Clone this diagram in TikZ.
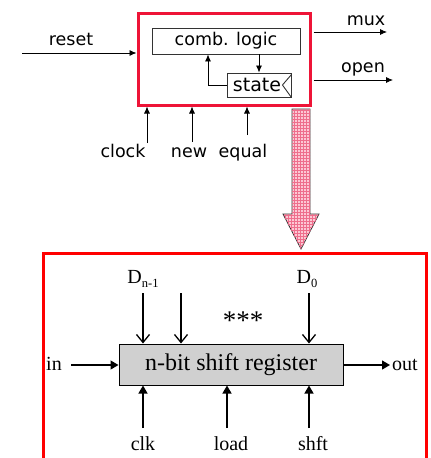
\documentclass[tikz,border=0pt]{standalone}
\usepackage{fontspec}
\setmainfont{Liberation Serif}
\newfontfamily\comicfont{DejaVu Sans}
\usetikzlibrary{arrows.meta,patterns,calc}
\definecolor{topred}{RGB}{238,20,55}
\definecolor{arrowpink}{RGB}{252,200,212}
\definecolor{gridred}{RGB}{238,110,140}
\definecolor{reggray}{RGB}{208,208,208}
\begin{document}
\begin{tikzpicture}[x=1pt,y=-1pt,
  ctext/.style={font=\comicfont\fontsize{17.5}{18}\selectfont, inner sep=0pt},
  stext/.style={font=\fontsize{20}{20}\selectfont, inner sep=0pt},
  sarrow/.style={-{Latex[length=7pt,width=6pt]}, line width=0.8pt},
  vtip/.style={-{Straight Barb[length=8pt,width=13pt]}, line width=1.3pt},
  ftip/.style={-{Triangle[length=8pt,width=9pt]}, line width=1.3pt},
  inbox/.style={draw=black!80, line width=0.9pt, inner sep=0pt}]
\useasboundingbox (0,0) rectangle (431,458);

% ---------- top FSM ----------
\node[draw=topred, line width=3pt, minimum width=172pt, minimum height=92pt, inner sep=0pt] (top) at (224,59) {};
\node[inbox, minimum width=148pt, minimum height=26pt, ctext] (comb) at (226,41) {comb. logic};
\node[inbox, minimum width=64pt, minimum height=24pt] (state) at (259,85) {};
\node[ctext, font=\comicfont\fontsize{19}{19}\selectfont] (statetxt) at (257,85) {state};
\draw[line width=0.9pt, black!80] ($(state.north east)+(0,2)$) -- ($(state.east)+(-9,0)$) -- (state.south east);
\coordinate (fb) at (208,85);
\draw[sarrow] (state.west) -| (fb |- comb.south);
\draw[sarrow] (state.north |- comb.south) -- (state.north);

% inputs / outputs
\coordinate (resetS) at (22,53);
\draw[sarrow] (resetS) -- (resetS -| top.west);
\node[ctext, anchor=base] (reset) at (71,45) {reset};
\coordinate (muxE) at (387,32);
\draw[sarrow] ($(muxE -| top.east)+(2,0)$) -- (muxE);
\node[ctext, anchor=base] (mux) at (366,25) {mux};
\coordinate (openE) at (393,80);
\draw[sarrow] ($(openE -| top.east)+(2,0)$) -- (openE);
\node[ctext, anchor=base] (open) at (363,72) {open};

\coordinate (clockS) at (147,143);
\coordinate (newS) at (192,142);
\coordinate (equalS) at (247,135);
\draw[sarrow] (clockS) -- (clockS |- top.south);
\draw[sarrow] (newS) -- (newS |- top.south);
\draw[sarrow] (equalS) -- (equalS |- top.south);
\node[ctext, anchor=base] (clock) at (123,157) {clock};
\node[ctext, anchor=base] (new) at (189,157) {new};
\node[ctext, anchor=base] (equal) at (243,157) {equal};

% ---------- big pink arrow ----------
\path[draw=black!80, line width=0.8pt, fill=arrowpink,
      postaction={pattern=grid, pattern color=gridred}]
  (292,109) -- (310,109) -- (310,214) -- (319,214) -- (301,249) -- (283,214) -- (292,214) -- cycle;

% ---------- bottom shift register ----------
\draw[red, line width=3pt] (43,470) -- (43,253) -- (426,253) -- (426,470);
\node[draw=black, line width=1pt, fill=reggray, minimum width=224pt, minimum height=41pt, inner sep=0pt,
      font=\fontsize{24}{24}\selectfont] (reg) at (231,364.5) {n-bit shift register};

\coordinate (d1) at (143,293);
\coordinate (d2) at (181,293);
\coordinate (d0) at (309,293);
\draw[vtip] (d1) -- (d1 |- reg.north);
\draw[vtip] (d2) -- (d2 |- reg.north);
\draw[vtip] (d0) -- (d0 |- reg.north);
\node[stext, anchor=base] (dn) at (143,283) {D{\fontsize{12.5}{13}\selectfont\raisebox{-4pt}{n-1}}};
\node[stext, anchor=base] (dz) at (307,283) {D{\fontsize{12.5}{13}\selectfont\raisebox{-4pt}{0}}};
\node[font=\fontsize{27}{27}\selectfont, inner sep=0pt] (stars) at (243,321) {***};

\coordinate (inS) at (71,365);
\draw[ftip] (inS) -- (reg.west |- inS);
\node[stext, anchor=base] (in) at (54,370) {in};
\coordinate (outE) at (390,365);
\draw[ftip] (reg.east |- outE) -- (outE);
\node[stext, anchor=base west] (out) at (392,370) {out};

\coordinate (clkS) at (143,428);
\coordinate (loadS) at (227,428);
\coordinate (shftS) at (309,428);
\draw[ftip] (clkS) -- (clkS |- reg.south);
\draw[ftip] (loadS) -- (loadS |- reg.south);
\draw[ftip] (shftS) -- (shftS |- reg.south);
\node[stext, anchor=base] (clk) at (143,450) {clk};
\node[stext, anchor=base] (load) at (231,450) {load};
\node[stext, anchor=base] (shft) at (313,450) {shft};
\end{tikzpicture}
\end{document}
